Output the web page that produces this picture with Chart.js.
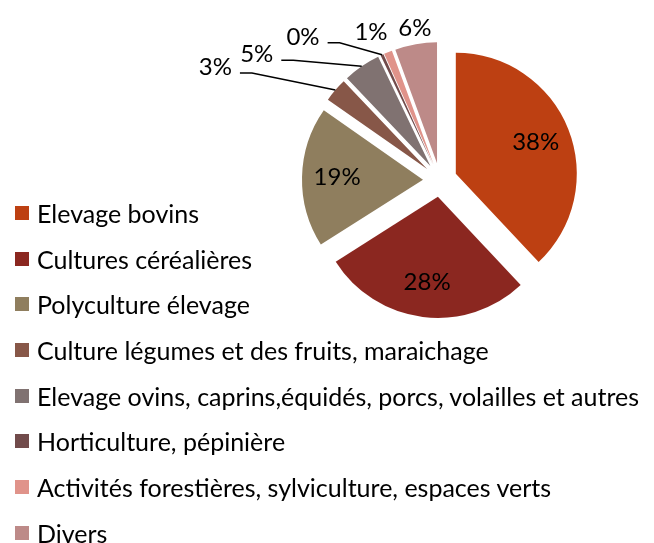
<!DOCTYPE html>
<html>
<head>
<meta charset="utf-8">
<script src="https://cdn.jsdelivr.net/npm/chart.js@4"></script>
<style>
  body { margin: 0; background: #fff; }
  #wrap { position: relative; width: 654px; height: 543px; }
  #pieChart { position: absolute; left: 0; top: 0; }
  #legend { position: absolute; left: 15px; top: 190px; font-family: Lato, sans-serif; font-size: 25px; color: #000; }
  .item { height: 45.7px; display: flex; align-items: center; white-space: nowrap; }
  .box { width: 14px; height: 14px; margin-right: 8px; flex: none; }
</style>
</head>
<body>
<div id="wrap">
  <canvas id="pieChart" width="654" height="543"></canvas>
  <div id="legend"></div>
</div>
<script>
const labels = [
  'Elevage bovins',
  'Cultures céréalières',
  'Polyculture élevage',
  'Culture légumes et des fruits, maraichage',
  'Elevage ovins, caprins,équidés, porcs, volailles et autres',
  'Horticulture, pépinière',
  'Activités forestières, sylviculture, espaces verts',
  'Divers'
];
const values = [38.0, 28.0, 18.7, 3.2, 5.0, 0.4, 1.1, 5.6];
const colors = ['#BD4012', '#8B2720', '#8F7E5E', '#875748', '#807271', '#714B4B', '#E0938A', '#BD8A88'];

// label placement: null = inside the slice, [dx, dy] = outside, relative to the slice's outer edge
const labelShift = [null, null, null, [-120, -23], [-105, -12], [-79, -18], [-17, -20], [-1, -16]];
const leaderLine = [false, false, false, true, true, true, false, false];
const explode = 17;

// html legend
const legendEl = document.getElementById('legend');
labels.forEach((name, i) => {
  const row = document.createElement('div');
  row.className = 'item';
  const box = document.createElement('span');
  box.className = 'box';
  box.style.background = colors[i];
  const txt = document.createElement('span');
  txt.textContent = name;
  row.appendChild(box);
  row.appendChild(txt);
  legendEl.appendChild(row);
});

// push each slice out from the centre like an exploded excel pie
const explodePlugin = {
  id: 'explodePlugin',
  afterDatasetsUpdate(chart) {
    chart.getDatasetMeta(0).data.forEach(arc => {
      const mid = (arc.startAngle + arc.endAngle) / 2;
      arc.x += Math.cos(mid) * explode;
      arc.y += Math.sin(mid) * explode;
    });
  }
};

const pctLabels = {
  id: 'pctLabels',
  afterDatasetsDraw(chart) {
    const ctx = chart.ctx;
    const total = values.reduce((a, b) => a + b, 0);
    ctx.save();
    ctx.font = '24px Lato';
    ctx.fillStyle = '#000';
    ctx.strokeStyle = '#000';
    ctx.lineWidth = 1.5;
    ctx.textAlign = 'center';
    ctx.textBaseline = 'middle';
    chart.getDatasetMeta(0).data.forEach((arc, i) => {
      const p = arc.getProps(['x', 'y', 'startAngle', 'endAngle', 'outerRadius'], true);
      const mid = (p.startAngle + p.endAngle) / 2;
      const txt = Math.round(values[i] / total * 100) + '%';
      const shift = labelShift[i];
      if (!shift) {
        ctx.fillText(txt, p.x + Math.cos(mid) * p.outerRadius * 0.71, p.y + Math.sin(mid) * p.outerRadius * 0.71);
        return;
      }
      const ax = p.x + Math.cos(mid) * p.outerRadius;
      const ay = p.y + Math.sin(mid) * p.outerRadius;
      const lx = ax + shift[0];
      const ly = ay + shift[1];
      ctx.fillText(txt, lx, ly);
      if (leaderLine[i]) {
        const right = lx + ctx.measureText(txt).width / 2;
        ctx.beginPath();
        ctx.moveTo(right + 8, ly + 6);
        ctx.lineTo(right + 20, ly + 6);
        ctx.lineTo(ax, ay);
        ctx.stroke();
      }
    });
    ctx.restore();
  }
};

new Chart(document.getElementById('pieChart'), {
  type: 'pie',
  data: {
    labels: labels,
    datasets: [{
      data: values,
      backgroundColor: colors,
      borderWidth: 0,
      hoverOffset: 0
    }]
  },
  options: {
    responsive: false,
    animation: false,
    layout: { padding: { left: 319, right: 93, top: 59, bottom: 242 } },
    plugins: {
      legend: { display: false },
      tooltip: { enabled: false }
    }
  },
  plugins: [explodePlugin, pctLabels]
});
</script>
</body>
</html>
